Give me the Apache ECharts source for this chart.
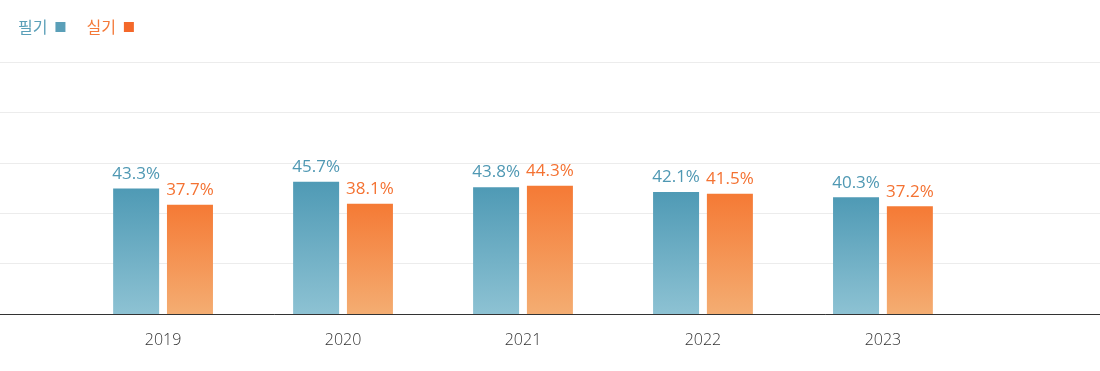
<!DOCTYPE html>
<html>
<head>
<meta charset="utf-8">
<script src="https://cdn.jsdelivr.net/npm/echarts@6/dist/echarts.min.js"></script>
<style>html,body{margin:0;padding:0;background:#fff}#c{width:1100px;height:371px}</style>
</head>
<body>
<div id="c"></div>
<script>
const years = [2019, 2020, 2021, 2022, 2023];
const written = [43.3, 45.7, 43.8, 42.1, 40.3];
const practical = [37.7, 38.1, 44.3, 41.5, 37.2];
const seriesNames = ['필기', '실기'];

const FONT = '"Open Sans", "Noto Sans CJK KR", sans-serif';
const chart = echarts.init(document.getElementById('c'), null, {renderer: 'canvas'});
function grad(top, bottom) {
  return new echarts.graphic.LinearGradient(0, 0, 0, 1, [
    {offset: 0, color: top}, {offset: 1, color: bottom}
  ]);
}
chart.setOption({
  animation: false,
  legend: {
    left: 13, top: 14, align: 'right', itemWidth: 10, itemHeight: 10, itemGap: 21,
    icon: 'rect',
    textStyle: {fontFamily: '"Noto Sans CJK KR", sans-serif', fontSize: 16, fontWeight: 400, padding: [0, 3, 0, 0]},
    data: [
      {name: seriesNames[0], textStyle: {color: '#5a9fb8'}, itemStyle: {color: '#5a9fb8'}},
      {name: seriesNames[1], textStyle: {color: '#f47a3a'}, itemStyle: {color: '#f4682a'}}
    ]
  },
  grid: {left: 0, right: 0, top: 62, bottom: 57},
  xAxis: {
    type: 'value', min: 2018.094, max: 2024.206,
    axisLine: {show: true, lineStyle: {color: '#333', width: 1}},
    axisTick: {show: false},
    splitLine: {show: false},
    axisLabel: {
      customValues: years, color: '#333', fontSize: 16, fontWeight: 300, fontFamily: FONT, margin: 18,
      formatter: v => String(Math.round(v))
    }
  },
  yAxis: {
    type: 'value', min: 0, max: 87, interval: 17.4,
    axisLine: {show: false}, axisTick: {show: false}, axisLabel: {show: false},
    splitLine: {lineStyle: {color: '#ececec'}}
  },
  series: [
    {
      name: seriesNames[0], type: 'bar', barWidth: 46, barGap: '17%',
      data: years.map((y, i) => [y, written[i]]),
      itemStyle: {color: grad('#4f9ab5', '#8dc2d3')},
      label: {show: true, position: 'top', distance: 6, color: '#4f98b3', fontSize: 17, fontWeight: 400, fontFamily: FONT,
        formatter: p => p.value[1].toFixed(1) + '%'}
    },
    {
      name: seriesNames[1], type: 'bar', barWidth: 46, barGap: '17%',
      data: years.map((y, i) => [y, practical[i]]),
      itemStyle: {color: grad('#f57a35', '#f4ad72')},
      label: {show: true, position: 'top', distance: 6, color: '#f47232', fontSize: 17, fontWeight: 400, fontFamily: FONT,
        formatter: p => p.value[1].toFixed(1) + '%'}
    }
  ]
});
</script>
</body>
</html>
